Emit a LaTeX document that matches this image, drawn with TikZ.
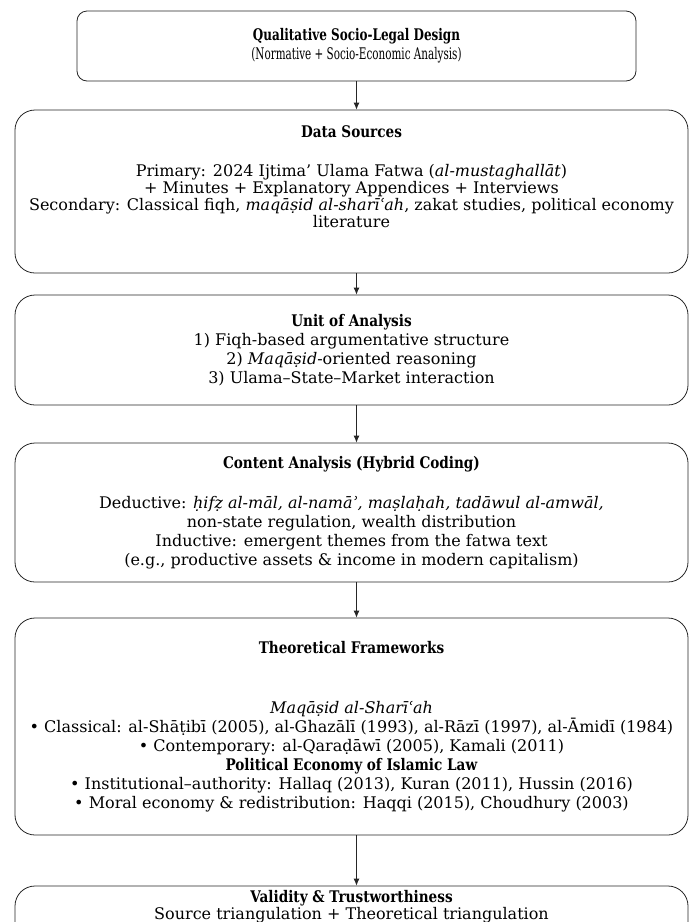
\documentclass[tikz,border=0pt]{standalone}
\usepackage{fontspec}
\setmainfont{DejaVu Serif}[BoldFeatures={FakeStretch=0.85}]
\newfontfamily\narrowfont{DejaVu Serif}[FakeStretch=0.65]
\newfontfamily\narrowtitle{DejaVu Serif}[FakeStretch=0.75]
\usetikzlibrary{arrows,arrows.meta,shapes}
\tikzstyle{stage}=[draw=black!85, line width=0.8pt, rounded corners=20pt, align=center, inner sep=0pt, minimum width=673pt, font=\fontsize{16}{19}\selectfont]
\tikzstyle{tightstage}=[stage, font=\fontsize{16}{17}\selectfont]
\tikzstyle{topstage}=[stage, rounded corners=10pt, minimum width=559pt, minimum height=70pt, font=\fontsize{16}{19}\narrowfont]
\tikzstyle{edge} = [draw=black!85,line width=0.8pt,-{Latex[length=7pt,width=6pt]}]

\begin{document}
\begin{tikzpicture}[x=1pt, y=-1pt]
		\useasboundingbox (0,0) rectangle (689,922);
		% First we draw the stages of the design
		\node[topstage] (design) at (356.5,46) {{\narrowtitle\bfseries Qualitative Socio-Legal Design}\\(Normative + Socio-Economic Analysis)};
		
		\node[tightstage, minimum height=163pt] (sources) at (351.5,191.5) {\textbf{Data Sources}\\[22pt]
			Primary: 2024 Ijtima’ Ulama Fatwa (\textit{al-mustaghallāt})\\
			+ Minutes + Explanatory Appendices + Interviews\\
			Secondary: Classical fiqh, \textit{maqāṣid al-sharīʿah}, zakat studies, political economy\\
			literature\\[12pt]\mbox{}};
		
		\node[stage, minimum height=110pt] (unit) at (351.5,350) {\textbf{Unit of Analysis}\\
			1) Fiqh-based argumentative structure\\
			2) \textit{Maqāṣid}-oriented reasoning\\
			3) Ulama–State–Market interaction};
		
		\node[stage, minimum height=139pt] (coding) at (351.5,512.5) {\textbf{Content Analysis (Hybrid Coding)}\\[21pt]
			Deductive: \textit{ḥifẓ al-māl, al-namāʾ, maṣlaḥah, tadāwul al-amwāl,}\\
			non-state regulation, wealth distribution\\
			Inductive: emergent themes from the fatwa text\\
			(e.g., productive assets \& income in modern capitalism)};
		
		\node[stage, minimum height=217pt] (frames) at (351.5,726.5) {\textbf{Theoretical Frameworks}\\[41pt]
			\textit{Maqāṣid al-Sharīʿah}\\
			• Classical: al-Shāṭibī (2005), al-Ghazālī (1993), al-Rāzī (1997), al-Āmidī (1984)\\
			• Contemporary: al-Qaraḍāwī (2005), Kamali (2011)\\
			\textbf{Political Economy of Islamic Law}\\
			• Institutional–authority: Hallaq (2013), Kuran (2011), Hussin (2016)\\
			• Moral economy \& redistribution: Haqqi (2015), Choudhury (2003)};
		
		\node[tightstage, minimum height=80pt] (validity) at (351.5,926) {\textbf{Validity \& Trustworthiness}\\
			Source triangulation + Theoretical triangulation\\[26pt]\mbox{}};
		
		% Connect stages with arrows
		\foreach \source/ \dest in {
			design/sources, sources/unit, unit/coding, coding/frames, frames/validity}
		\path[edge] (\source.south -| design) -- (\dest.north -| design);
\end{tikzpicture}
\end{document}
